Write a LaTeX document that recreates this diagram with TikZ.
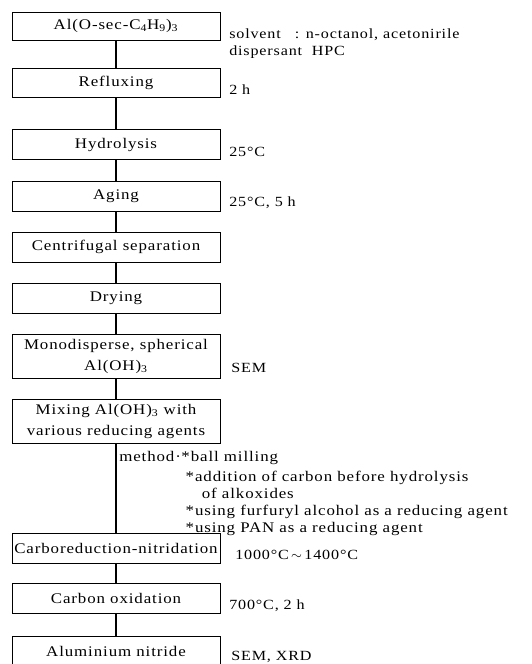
\documentclass[tikz,border=0pt]{standalone}
\usepackage{fontspec}
\setmainfont{Liberation Serif}[FakeStretch=1.15,LetterSpace=6]
\usepackage{tikz}
\usetikzlibrary{positioning}
\tikzset{
	flowbox/.style={draw,line width=0.6pt,minimum width=148.5pt,minimum height=21.4pt,inner sep=0pt,align=center,font=\fontsize{10.5}{15}\selectfont},
	tallbox/.style={flowbox,minimum height=31.4pt},
	note/.style={inner sep=0pt,align=left,font=\fontsize{10}{12}\selectfont},
	methodnote/.style={note,font=\fontsize{10.5}{12.1}\selectfont},
	link/.style={line width=0.8pt}
}
\begin{document}
\begin{tikzpicture}[x=0.714pt,y=-0.714pt]
				\useasboundingbox (0,0) rectangle (532,664);
				% Process steps
				\node[flowbox,minimum height=20pt] (start) at (116,26) {Al(O-sec-C\textsubscript{4}H\textsubscript{9})\textsubscript{3}};
				\node[flowbox,minimum height=20.7pt] (reflux) at (116,82.5) {Refluxing};
				\node[flowbox] (hydro) at (116,144.5) {Hydrolysis};
				\node[flowbox] (aging) at (116,196) {Aging};
				\node[flowbox] (centri) at (116,247) {Centrifugal separation};
				\node[flowbox] (drying) at (116,298) {Drying};
				\node[tallbox] (mono) at (116,356) {Monodisperse, spherical\\Al(OH)\textsubscript{3}};
				\node[tallbox] (mixing) at (116,421) {Mixing Al(OH)\textsubscript{3} with\\various reducing agents};
				\node[flowbox] (carbo) at (116,548) {Carboreduction-nitridation};
				\node[flowbox] (oxid) at (116,598) {Carbon oxidation};
				\node[flowbox] (aln) at (116,651) {Aluminium nitride};
				\foreach \a/\b in {start/reflux,reflux/hydro,hydro/aging,aging/centri,centri/drying,drying/mono,mono/mixing,mixing/carbo,carbo/oxid,oxid/aln}
					\draw[link] (\a) -- (\b);
				% Conditions
				\node[note,anchor=west] (solv) at (229,44) {solvent\quad: n-octanol, acetonirile\\dispersant\ \ HPC};
				\node[note,anchor=west] (t2h) at (229,90) {2 h};
				\node[note,anchor=west] (t25) at (229,152) {25°C};
				\node[note,anchor=west] (t25b) at (229,203) {25°C, 5 h};
				\node[note,anchor=west] (sem) at (231,368) {SEM};
				% Mixing methods
				\node[methodnote,anchor=west] (method) at (119,456) {method·};
				\node[methodnote,anchor=base west] (ball) at (method.base east) {*ball milling};
				\node[methodnote,below=4.5pt of ball.south west,anchor=north west,xshift=3pt] (others) {*addition of carbon before hydrolysis\\\hspace{1.1em}of alkoxides\\*using furfuryl alcohol as a reducing agent\\*using PAN as a reducing agent};
				\node[note,anchor=west] (temp) at (235,555) {1000°C$\,\sim\,$1400°C};
				\node[note,anchor=west] (t700) at (229,606) {700°C, 2 h};
				\node[note,anchor=west] (xrd) at (231,657) {SEM, XRD};
\end{tikzpicture}
\end{document}
